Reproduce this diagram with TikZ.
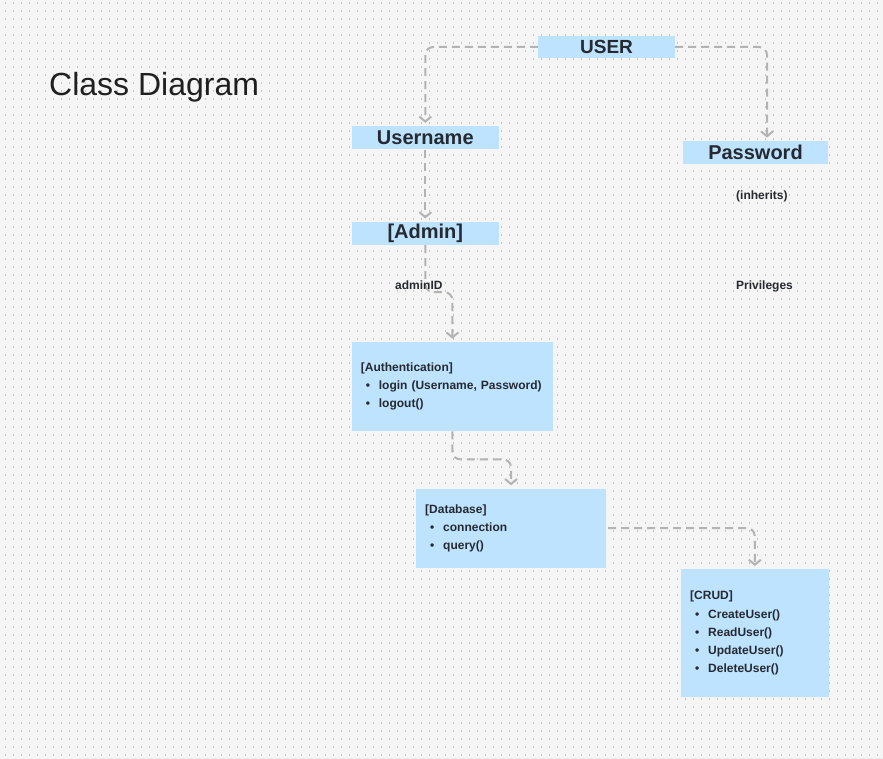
\documentclass[tikz,border=0pt]{standalone}
\usepackage{fontspec}
\setmainfont{Liberation Sans}
\usetikzlibrary{arrows.meta}
\definecolor{bg}{HTML}{F5F5F5}
\definecolor{dotc}{HTML}{C4C4C4}
\definecolor{boxc}{HTML}{BDE3FF}
\definecolor{txt}{HTML}{262A30}
\definecolor{conc}{HTML}{B3B3B3}
\tikzset{
 box/.style={fill=boxc, inner sep=0pt, text=txt, font=\bfseries\fontsize{20}{24}\selectfont},
 listbox/.style={fill=boxc, inner xsep=9pt, inner ysep=0pt, align=left, text=txt, font=\bfseries\fontsize{12}{18.3}\selectfont, anchor=north west},
 lbl/.style={text=txt, font=\bfseries\fontsize{12}{14}\selectfont, inner sep=0pt, anchor=base west},
 conn/.style={draw=conc, line width=2pt, dash pattern=on 8pt off 5pt, rounded corners=8pt, -{Straight Barb[length=5pt,width=12pt]}, shorten >=3pt},
}
\newcommand{\itm}[1]{\hspace*{5pt}\makebox[13pt][l]{\textbullet}#1}
\begin{document}
\begin{tikzpicture}[x=1pt,y=-1pt]
\useasboundingbox (0,0) rectangle (883,759);
\fill[bg] (0,0) rectangle (883,759);
\foreach \yy in {3,11,...,755}
  \draw[dotc, line width=1.1pt, dash pattern=on 1.1pt off 6.9pt] (5,\yy) -- (883,\yy);
\draw[black!7, line width=0.8pt] (80,758.6) -- (883,758.6);

\node[font=\fontsize{32}{36}\selectfont, text=black!88, anchor=base west, inner sep=0pt] (title) at (49,96) {Class Diagram};

\node[box, minimum width=137pt, minimum height=22pt, font=\bfseries\fontsize{19}{24}\selectfont] (user) at (606.5,47) {USER};
\node[box, minimum width=147.3pt, minimum height=23.3pt] (username) at (425.3,137.7) {Username};
\node[box, minimum width=145pt, minimum height=23pt] (password) at (755.5,152.3) {Password};
\node[box, minimum width=147.3pt, minimum height=23.3pt] (admin) at (425.3,233.3) {[Admin]};

\node[listbox, text width=183pt, minimum height=89.3pt] (auth) at (351.7,341.7)
  {[Authentication]\\ \itm{login (Username, Password)}\\ \itm{logout()}};
\node[listbox, text width=171.7pt, minimum height=79.4pt] (db) at (416,488.3)
  {[Database]\\ \itm{connection}\\ \itm{query()}};
\node[listbox, text width=129.3pt, minimum height=128pt] (crud) at (681,569)
  {[CRUD]\\ \itm{CreateUser()}\\ \itm{ReadUser()}\\ \itm{UpdateUser()}\\ \itm{DeleteUser()}};

\draw[conn] (user.west) -| (username.north);
\draw[conn] (user.east) -| ([xshift=11.5pt]password.north);
\draw[conn] (username.south) -- (admin.north);
\draw[conn] (admin.south) -- ++(0,47) -| (auth.north);
\draw[conn] (auth.south) -- ++(0,28) -| (db.north);
\draw[conn, shorten <=2pt] (db.east) -| (crud.north);

\node[lbl] (adminid) at (395,290) {adminID};
\node[lbl] (inherits) at (736,200) {(inherits)};
\node[lbl] (privileges) at (736,290) {Privileges};
\end{tikzpicture}
\end{document}
